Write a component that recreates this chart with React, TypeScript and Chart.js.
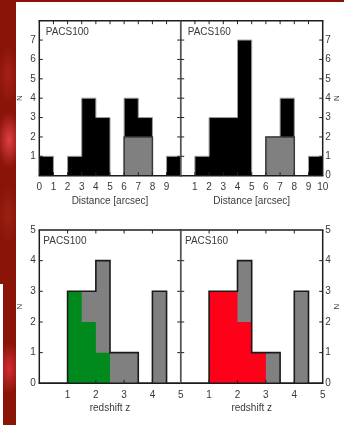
import React, { useEffect, useRef } from "react";
import { Chart, registerables } from "chart.js";

Chart.register(...registerables);

// ---------------- data ----------------
const distanceEdges = [0, 1, 2, 3, 4, 5, 6, 7, 8, 9, 10];
const pacs100DistanceAll = [1, 0, 1, 4, 3, 0, 4, 3, 0, 1];
const pacs100DistanceSub = [0, 0, 0, 0, 0, 0, 2, 2, 0, 0];
const pacs160DistanceAll = [0, 1, 3, 3, 7, 0, 2, 4, 0, 1];
const pacs160DistanceSub = [0, 0, 0, 0, 0, 0, 2, 2, 0, 0];

const redshiftEdges = [0, 0.5, 1, 1.5, 2, 2.5, 3, 3.5, 4, 4.5, 5];
const pacs100RedshiftAll = [0, 0, 3, 3, 4, 1, 1, 0, 3, 0];
const pacs100RedshiftSpec = [0, 0, 3, 2, 1, 0, 0, 0, 0, 0];
const pacs160RedshiftAll = [0, 0, 3, 3, 4, 1, 1, 0, 3, 0];
const pacs160RedshiftSpec = [0, 0, 3, 3, 2, 1, 0, 0, 0, 0];

const distanceLabelsLeft = [0, 1, 2, 3, 4, 5, 6, 7, 8, 9];
const distanceLabelsRight = [1, 2, 3, 4, 5, 6, 7, 8, 9, 10];
const redshiftLabels = [1, 2, 3, 4, 5];
const countLabelsTopLeft = [1, 2, 3, 4, 5, 6, 7];
const countLabelsTopRight = [0, 1, 2, 3, 4, 5, 6, 7];
const countLabelsBottom = [0, 1, 2, 3, 4, 5];

const distanceTitle = "Distance [arcsec]";
const redshiftTitle = "redshift z";
const countTitle = "N";
const nameLeft = "PACS100";
const nameRight = "PACS160";

// ---------------- styling ----------------
const FONT = "'Liberation Sans Narrow', 'Liberation Sans', Arial, sans-serif";
const TEXT = "#3a3a3a";

type Spec = {
  left: number; top: number; width: number; height: number;
  padLeft: number; padRight: number; padTop: number;
  side: "left" | "right";
  yAxisWidth: number; xAxisHeight: number;
  xMax: number; yMax: number;
  xShown: number[]; yShown: number[];
  xTitle: string; name: string; nameDx: number; nameDy: number;
  edges: number[]; all: number[]; sub: number[];
  kind: "distance" | "redshift";
  subColor: string;
  xTickPad: number; xTitlePad: number; yTickPad: number; yTitlePad: number;
};

function stepPoints(edges: number[], vals: number[]) {
  const pts = [{ x: edges[0], y: 0 }];
  vals.forEach((v, i) => pts.push({ x: edges[i], y: v }));
  pts.push({ x: edges[vals.length], y: 0 });
  return pts;
}

function Panel({ spec }: { spec: Spec }) {
  const ref = useRef<HTMLCanvasElement | null>(null);
  useEffect(() => {
    if (!ref.current) return;
    const s = spec;
    const base = {
      type: "line",
      stepped: true,
      pointRadius: 0,
      tension: 0,
    };
    let datasets: any[];
    if (s.kind === "distance") {
      datasets = [
        { ...base, data: stepPoints(s.edges, s.sub), backgroundColor: "#808080", fill: "origin", borderColor: "#3a3a3a", borderWidth: 1.5, order: 0 },
        { ...base, data: stepPoints(s.edges, s.all), backgroundColor: "#000000", fill: "origin", borderColor: "#9a9a9a", borderWidth: 1, order: 1 },
      ];
    } else {
      datasets = [
        { ...base, data: stepPoints(s.edges, s.all), backgroundColor: "rgba(0,0,0,0)", fill: false, borderColor: "#1a1a1a", borderWidth: 1.6, order: 0 },
        { ...base, data: stepPoints(s.edges, s.sub), backgroundColor: s.subColor, fill: "origin", borderColor: "rgba(0,0,0,0)", borderWidth: 0, order: 1 },
        { ...base, data: stepPoints(s.edges, s.all), backgroundColor: "#808080", fill: "origin", borderColor: "rgba(0,0,0,0)", borderWidth: 0, order: 2 },
      ];
    }
    const tickFont = { family: FONT, size: 10, lineHeight: 1.2 };
    const framePlugin = {
      id: "frame",
      afterDatasetsDraw(chart: any) {
        const { ctx, chartArea: a, scales } = chart;
        ctx.save();
        const outer = "#1c1c1c";
        const divider = "#555555";
        const line = (x1: number, y1: number, x2: number, y2: number) => {
          ctx.beginPath();
          ctx.moveTo(x1, y1);
          ctx.lineTo(x2, y2);
          ctx.stroke();
        };
        ctx.lineWidth = 1.5;
        ctx.strokeStyle = outer;
        line(a.left - 0.75, a.top, a.right + 0.75, a.top);
        line(a.left - 0.75, a.bottom, a.right + 0.75, a.bottom);
        ctx.strokeStyle = s.side === "left" ? outer : divider;
        line(a.left, a.top, a.left, a.bottom);
        ctx.strokeStyle = s.side === "right" ? outer : divider;
        line(a.right, a.top, a.right, a.bottom);
        // inward ticks
        ctx.lineWidth = 1;
        ctx.strokeStyle = "#222222";
        const L = 3.5;
        const xs = scales.x;
        xs.ticks.forEach((t: any) => {
          if (t.value <= xs.min || t.value >= xs.max) return;
          const px = xs.getPixelForValue(t.value);
          line(px, a.bottom, px, a.bottom - L);
          line(px, a.top, px, a.top + L);
        });
        const ys = scales.y;
        ys.ticks.forEach((t: any) => {
          if (t.value <= ys.min || t.value >= ys.max) return;
          const py = ys.getPixelForValue(t.value);
          line(a.left, py, a.left + L, py);
          line(a.right, py, a.right - L, py);
        });
        ctx.fillStyle = TEXT;
        ctx.font = `10px ${FONT}`;
        ctx.textBaseline = "middle";
        ctx.textAlign = "left";
        ctx.fillText(s.name, a.left + s.nameDx, a.top + s.nameDy);
        ctx.restore();
      },
    };
    const chart = new Chart(ref.current, {
      type: "line",
      data: { datasets },
      options: {
        animation: false,
        responsive: false,
        maintainAspectRatio: false,
        events: [],
        layout: { padding: { left: s.padLeft, right: s.padRight, top: s.padTop, bottom: 0 } },
        plugins: { legend: { display: false }, tooltip: { enabled: false } },
        scales: {
          x: {
            type: "linear",
            position: "bottom",
            min: 0,
            max: s.xMax,
            grid: { display: false, drawTicks: false },
            border: { display: false },
            ticks: {
              stepSize: 1,
              autoSkip: false,
              maxRotation: 0,
              padding: s.xTickPad,
              color: TEXT,
              font: tickFont,
              callback: (v: any) => (s.xShown.includes(Number(v)) ? String(v) : ""),
            },
            title: { display: true, text: s.xTitle, color: TEXT, font: tickFont, padding: { top: 0, bottom: s.xTitlePad } },
            afterFit: (scale: any) => {
              scale.height = s.xAxisHeight;
              scale.paddingLeft = 0;
              scale.paddingRight = 0;
            },
          },
          y: {
            type: "linear",
            position: s.side,
            min: 0,
            max: s.yMax,
            grid: { display: false, drawTicks: false },
            border: { display: false },
            ticks: {
              stepSize: 1,
              autoSkip: false,
              padding: s.yTickPad,
              color: TEXT,
              font: tickFont,
              callback: (v: any) => (s.yShown.includes(Number(v)) ? String(v) : ""),
            },
            title: { display: true, text: countTitle, color: TEXT, font: { family: FONT, size: 8, lineHeight: 1.2 }, padding: { top: s.yTitlePad, bottom: 0 } },
            afterFit: (scale: any) => {
              scale.width = s.yAxisWidth;
              scale.paddingTop = 0;
              scale.paddingBottom = 0;
            },
          },
        },
      },
      plugins: [framePlugin],
    } as any);
    return () => chart.destroy();
  }, [spec]);
  return (
    <canvas
      ref={ref}
      width={spec.width}
      height={spec.height}
      style={{ position: "absolute", left: spec.left, top: spec.top, width: spec.width, height: spec.height }}
    />
  );
}

const LEFT_X = 39.3;
const MID_X = 180.7;
const RIGHT_X = 322.7;

const specs: Spec[] = [
  {
    left: 0, top: 0, width: 184, height: 215,
    padLeft: 0, padRight: 184 - MID_X, padTop: 20.7,
    side: "left", yAxisWidth: LEFT_X, xAxisHeight: 215 - 175.7,
    xMax: 10, yMax: 8, xShown: distanceLabelsLeft, yShown: countLabelsTopLeft,
    xTitle: distanceTitle, name: nameLeft, nameDx: 6.4, nameDy: 11.6,
    edges: distanceEdges, all: pacs100DistanceAll, sub: pacs100DistanceSub,
    kind: "distance", subColor: "#808080",
    xTickPad: 5.5, xTitlePad: 8, yTickPad: 3.5, yTitlePad: 15.2,
  },
  {
    left: 178, top: 0, width: 166, height: 215,
    padLeft: MID_X - 178, padRight: 0, padTop: 20.7,
    side: "right", yAxisWidth: 344 - RIGHT_X, xAxisHeight: 215 - 175.7,
    xMax: 10, yMax: 8, xShown: distanceLabelsRight, yShown: countLabelsTopRight,
    xTitle: distanceTitle, name: nameRight, nameDx: 7, nameDy: 11.6,
    edges: distanceEdges, all: pacs160DistanceAll, sub: pacs160DistanceSub,
    kind: "distance", subColor: "#808080",
    xTickPad: 5.5, xTitlePad: 8, yTickPad: 2.5, yTitlePad: 3,
  },
  {
    left: 0, top: 215, width: 184, height: 210,
    padLeft: 0, padRight: 184 - MID_X, padTop: 15,
    side: "left", yAxisWidth: LEFT_X, xAxisHeight: 425 - 383.3,
    xMax: 5, yMax: 5, xShown: redshiftLabels, yShown: countLabelsBottom,
    xTitle: redshiftTitle, name: nameLeft, nameDx: 4, nameDy: 10.8,
    edges: redshiftEdges, all: pacs100RedshiftAll, sub: pacs100RedshiftSpec,
    kind: "redshift", subColor: "#008a1e",
    xTickPad: 6, xTitlePad: 10.5, yTickPad: 3.5, yTitlePad: 15.2,
  },
  {
    left: 178, top: 215, width: 166, height: 210,
    padLeft: MID_X - 178, padRight: 0, padTop: 15,
    side: "right", yAxisWidth: 344 - RIGHT_X, xAxisHeight: 425 - 383.3,
    xMax: 5, yMax: 5, xShown: redshiftLabels, yShown: countLabelsBottom,
    xTitle: redshiftTitle, name: nameRight, nameDx: 4.3, nameDy: 10.8,
    edges: redshiftEdges, all: pacs160RedshiftAll, sub: pacs160RedshiftSpec,
    kind: "redshift", subColor: "#fe0018",
    xTickPad: 6, xTitlePad: 10.5, yTickPad: 2.5, yTitlePad: 3,
  },
];

export default function App() {
  return (
    <div style={{ position: "fixed", left: 0, top: 0, width: 344, height: 425, background: "#ffffff", overflow: "hidden" }}>
      <div
        style={{
          position: "absolute", left: 0, top: 0, width: 16, height: 425,
          background:
            "radial-gradient(ellipse 12px 28px at 9px 140px, rgba(222,64,70,1), rgba(222,64,70,0)), " +
            "radial-gradient(ellipse 12px 26px at 9px 368px, rgba(210,44,50,1), rgba(210,44,50,0)), " +
            "radial-gradient(ellipse 10px 30px at 8px 75px, rgba(170,36,28,0.8), rgba(170,36,28,0)), " +
            "radial-gradient(ellipse 10px 30px at 8px 215px, rgba(160,40,24,0.7), rgba(160,40,24,0)), " +
            "#8a1408",
        }}
      />
      <div style={{ position: "absolute", left: 0, top: 284, width: 2.5, height: 141, background: "#ffffff" }} />
      <div style={{ position: "absolute", left: 0, top: 0, width: 344, height: 1.5, background: "#8a1408" }} />
      {specs.map((s, i) => (
        <Panel key={i} spec={s} />
      ))}
    </div>
  );
}
